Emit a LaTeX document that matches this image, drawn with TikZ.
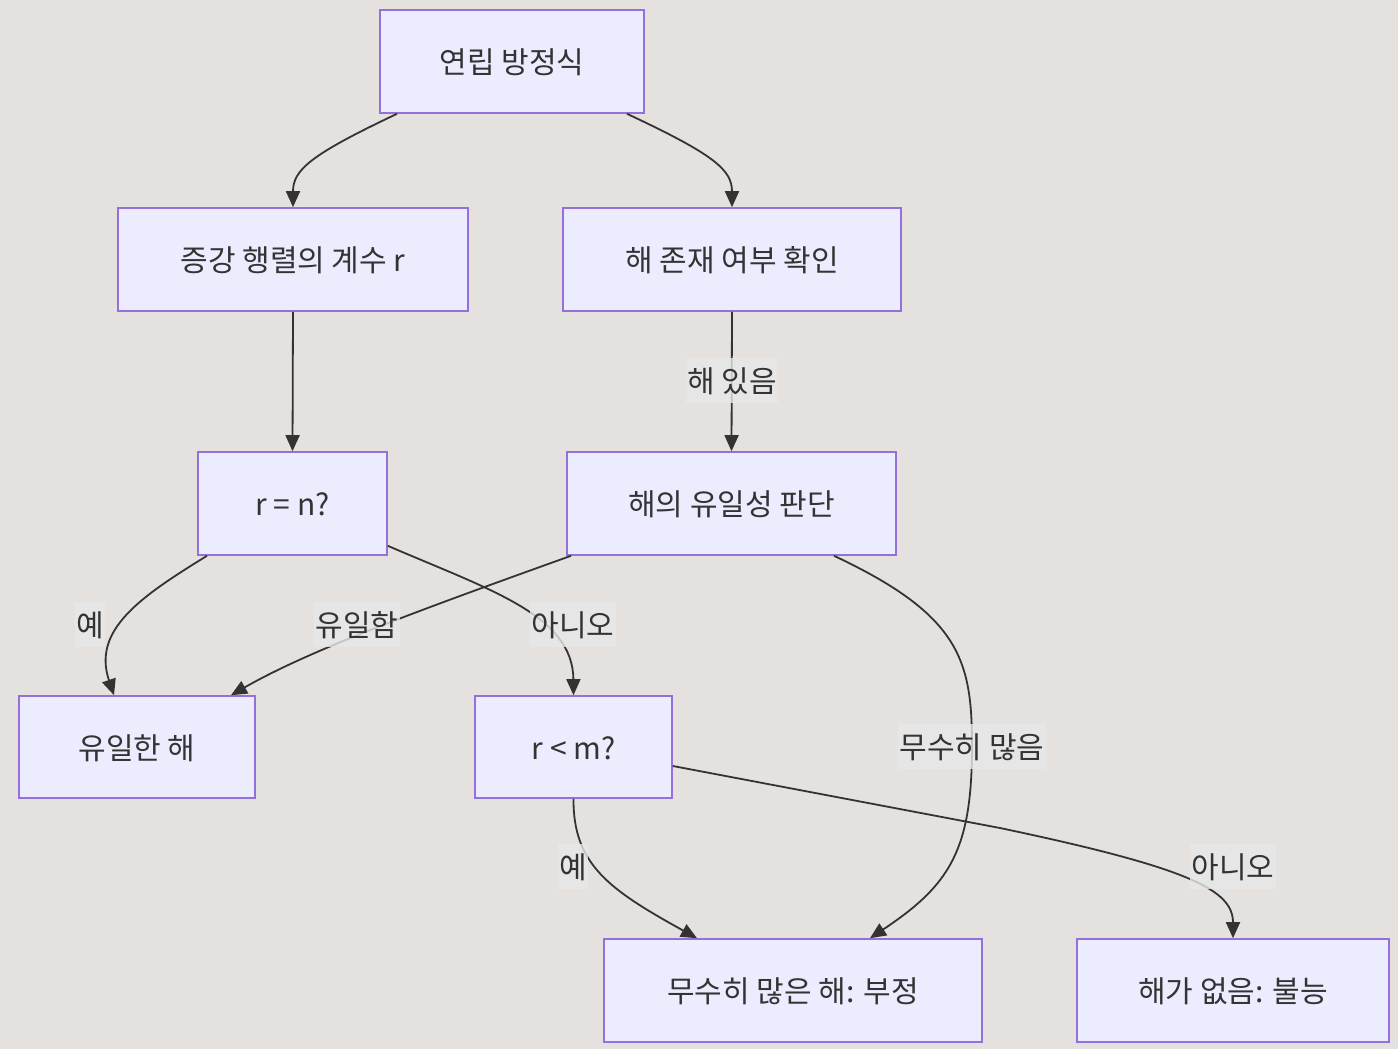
\documentclass[tikz,border=0pt]{standalone}
\usepackage{fontspec}
\setmainfont{Noto Sans CJK KR}
\usetikzlibrary{arrows.meta}
\definecolor{bgc}{RGB}{229,225,223}
\definecolor{nodefill}{RGB}{236,236,255}
\definecolor{nodeline}{RGB}{147,112,219}
\definecolor{txt}{RGB}{51,51,51}
\definecolor{lblfill}{RGB}{232,232,232}
\tikzset{
  box/.style={draw=nodeline, fill=nodefill, line width=1.6pt, text=txt,
    font=\fontsize{30}{36}\selectfont, inner sep=0pt, text height=30pt, text depth=6pt},
  lbl/.style={fill=lblfill, fill opacity=0.8, text opacity=1, text=txt,
    font=\fontsize{30}{36}\selectfont, inner xsep=1.5pt, inner ysep=4.5pt, text height=30pt, text depth=6pt},
  conn/.style={draw=txt, line width=1.8pt, -{Triangle[length=16pt,width=14pt]}}
}
\begin{document}
\begin{tikzpicture}[x=1pt,y=-1pt]
\fill[bgc] (0,0) rectangle (1398,1049);
\useasboundingbox (0,0) rectangle (1398,1049);
\node[box, minimum width=264pt, minimum height=103pt] (A) at (512,61.5) {연립 방정식};
\node[box, minimum width=350pt, minimum height=103pt] (B) at (293,259.5) {증강 행렬의 계수 r};
\node[box, minimum width=338pt, minimum height=103pt] (C) at (732,259.5) {해 존재 여부 확인};
\node[box, minimum width=189pt, minimum height=103pt] (D) at (292.5,503.5) {r = n?};
\node[box, minimum width=329pt, minimum height=103pt] (E) at (731.5,503.5) {해의 유일성 판단};
\node[box, minimum width=236pt, minimum height=102pt] (F) at (137,747) {유일한 해};
\node[box, minimum width=197pt, minimum height=102pt] (G) at (573.5,747) {r < m?};
\node[box, minimum width=378pt, minimum height=103pt] (H) at (793,990.5) {무수히 많은 해: 부정};
\node[box, minimum width=312pt, minimum height=103pt] (I) at (1233,990.5) {해가 없음: 불능};

\draw[conn] ([xshift=-115]A.south) .. controls (310,155) and (293,170) .. (B.north);
\draw[conn] ([xshift=115]A.south) .. controls (715,155) and (732,170) .. (C.north);
\draw[conn] (B.south) -- (D.north);
\draw[conn] (C.south) -- (E.north);
\draw[conn] ([xshift=-85.5]D.south) .. controls (140,597) and (92,630) .. ([xshift=-23]F.north);
\draw[conn] ([yshift=10]D.south east) .. controls (490,590) and (573,615) .. (G.north);
\draw[conn] ([xshift=-160.5]E.south) .. controls (420,610) and (310,650) .. ([xshift=94]F.north);
\draw[conn] ([xshift=102.5]E.south) .. controls (960,615) and (972,660) .. (972,746)
  .. controls (972,850) and (950,885) .. ([xshift=77]H.north);
\draw[conn] (G.south) .. controls (573,865) and (610,890) .. ([xshift=-96]H.north);
\coordinate (gi) at (1000,828);
\draw[conn] ([yshift=-19]G.east) -- (gi) .. controls (1190,868) and (1233,890) .. (I.north);

\node[lbl] (l1) at (732,380) {해 있음};
\node[lbl] (l2) at (90,624) {예};
\node[lbl] (l3) at (357,624) {유일함};
\node[lbl] (l4) at (573,624) {아니오};
\node[lbl] (l5) at (972,746) {무수히 많음};
\node[lbl] (l6) at (573,866) {예};
\node[lbl] (l7) at (1233,866) {아니오};
\end{tikzpicture}
\end{document}
